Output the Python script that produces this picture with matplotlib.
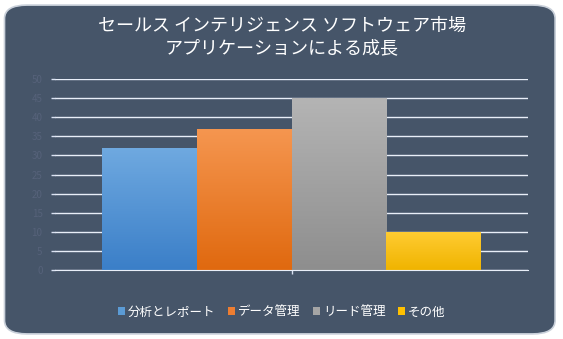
import numpy as np
import matplotlib.pyplot as plt
from matplotlib.patches import FancyBboxPatch, Patch
from matplotlib.colors import LinearSegmentedColormap

plt.rcParams['font.family'] = ['Noto Sans CJK JP', 'DejaVu Sans']

# data
categories = ["分析とレポート", "データ管理", "リード管理", "その他"]
values = [32, 37, 45, 10]
top_colors = ["#6fa9e0", "#f59650", "#b4b4b4", "#ffcc33"]
bottom_colors = ["#3b7fc8", "#e0690f", "#8e8e8e", "#f0b400"]
legend_colors = ["#5b9bd5", "#ed7d31", "#a5a5a5", "#ffc000"]
yticks = np.arange(0, 55, 5)
title = "セールス インテリジェンス ソフトウェア市場\nアプリケーションによる成長"

BG = "#465569"

fig = plt.figure(figsize=(5.63, 3.39), dpi=100)
fig.patch.set_facecolor("white")

frame = FancyBboxPatch((0.008, 0.015), 0.978, 0.97,
                       boxstyle="round,pad=0,rounding_size=0.04",
                       transform=fig.transFigure, facecolor=BG,
                       edgecolor="#c9d0da", linewidth=1.2, zorder=-1)
fig.patches.append(frame)

ax = fig.add_axes([0.0977, 0.2035, 0.8405, 0.5634])
ax.set_facecolor("none")
ax.set_zorder(1)

n = len(values)
w = 0.8 / n
xs = -0.4 + w / 2 + np.arange(n) * w

for x, v, c1, c2 in zip(xs, values, top_colors, bottom_colors):
    bar = ax.bar(x, v, width=w, color=c2, linewidth=0, zorder=3)[0]
    # vertical gradient inside the bar
    cmap = LinearSegmentedColormap.from_list("g", [c2, c1])
    grad = np.linspace(0, 1, 64).reshape(-1, 1)
    im = ax.imshow(grad, cmap=cmap, aspect="auto", origin="lower",
                   extent=(x - w / 2, x + w / 2, 0, v), zorder=3)
    im.set_clip_path(bar)

ax.set_xlim(-0.5, 0.5)
ax.set_ylim(0, 50)
ax.set_yticks(yticks)
ax.set_yticklabels([str(t) for t in yticks], color="#56627a", fontsize=7)
ax.set_xticks([0])
ax.set_xticklabels([""])
ax.tick_params(axis="y", length=3, color="#d9e1f2", width=1, pad=6)
ax.tick_params(axis="x", length=3, color="#d9e1f2", width=1)
ax.grid(axis="y", color="#e8eef8", linewidth=1, zorder=1)
ax.set_axisbelow(True)
for s in ["top", "right", "left"]:
    ax.spines[s].set_visible(False)
ax.spines["bottom"].set_color("#e8eef8")
ax.spines["bottom"].set_zorder(4)

fig.text(0.5, 0.89, title, ha="center", va="center", color="white",
         fontsize=13, linespacing=1.3)

handles = [Patch(facecolor=c, edgecolor="none") for c in legend_colors]
fig.legend(handles, categories, loc="center", bbox_to_anchor=(0.5, 0.08),
           ncol=4, frameon=False, fontsize=9, labelcolor="white",
           handlelength=0.6, handleheight=0.6, handletextpad=0.2,
           columnspacing=1.0)

fig.savefig("out.png", dpi=100, facecolor=fig.get_facecolor())
